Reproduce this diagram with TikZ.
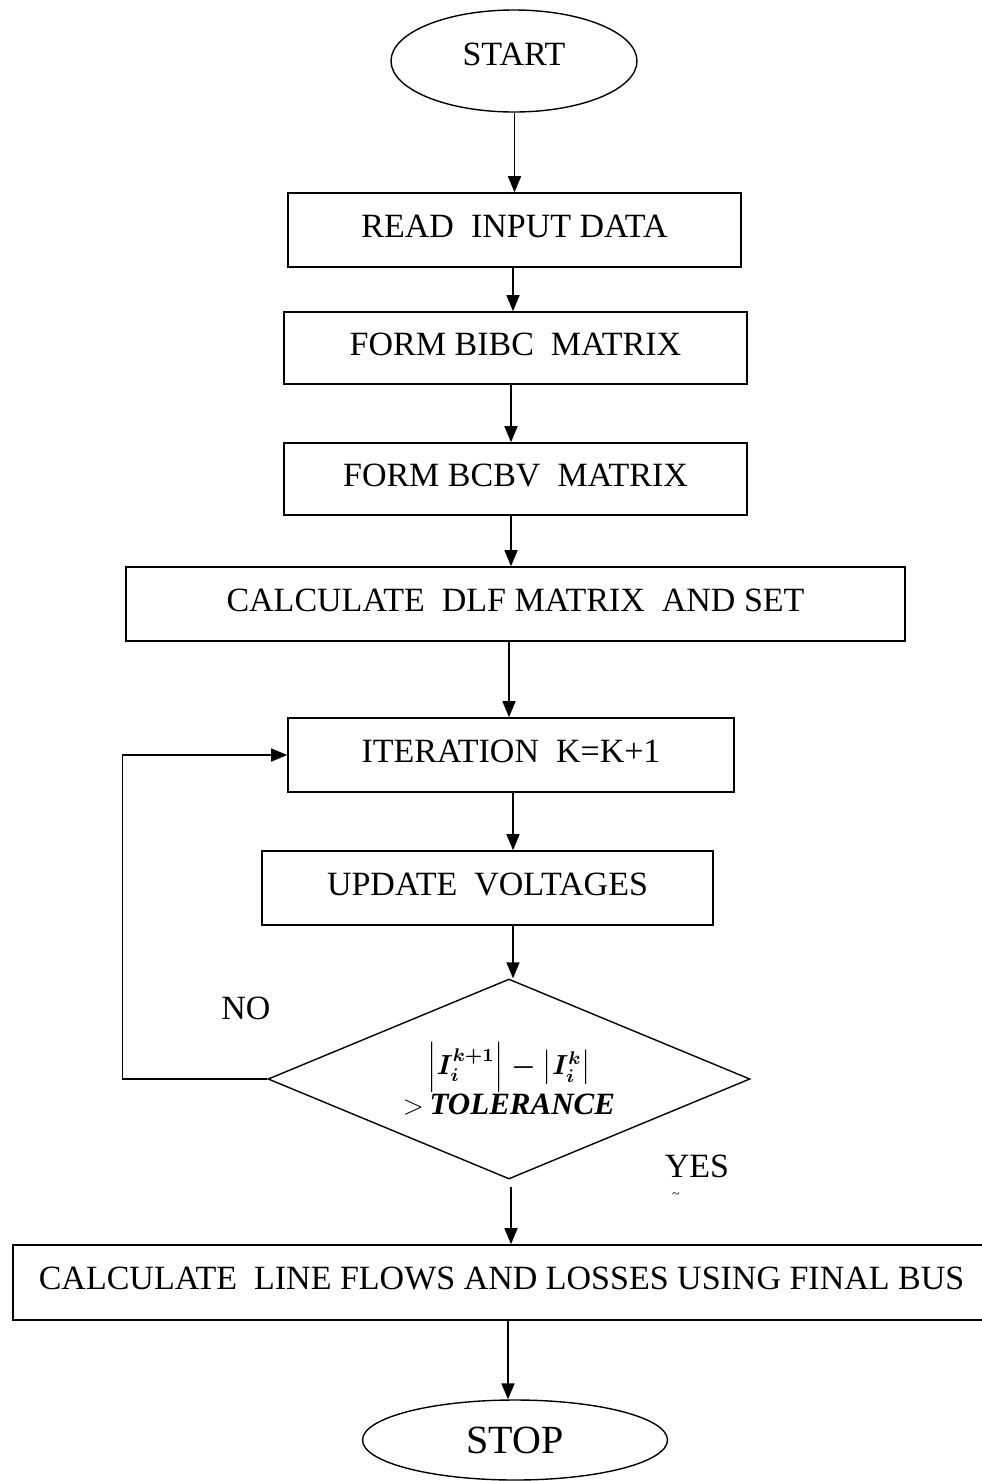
\documentclass[tikz,border=0pt]{standalone}
\usepackage{graphicx}
\usepackage{amsmath}
\usepackage{fontspec}
\setmainfont{Liberation Serif}
\usetikzlibrary{shapes.geometric,arrows.meta}
\begin{document}
\begin{tikzpicture}[x=1pt,y=-1pt,
  every node/.style={font=\fontsize{34}{42}\selectfont},
  box/.style={draw,rectangle,line width=1.6pt,inner sep=0pt,align=center},
  oval/.style={draw,ellipse,line width=1.4pt,inner sep=0pt},
  dec/.style={draw,diamond,line width=1.4pt,inner sep=0pt,aspect=2.41,align=center},
  arr/.style={line width=1.6pt,-{Triangle[length=16pt,width=13pt]}},
  lbl/.style={inner sep=0pt}]
\useasboundingbox (0,0) rectangle (982,1481);
\node[oval,minimum width=246pt,minimum height=102pt] (start) at (514,61) {\raisebox{-4pt}[0pt][0pt]{START}};
\node[box,minimum width=453pt,minimum height=74pt] (read) at (514.5,230) {\raisebox{-7pt}[0pt][0pt]{READ\ \ INPUT DATA}};
\node[box,minimum width=463pt,minimum height=72pt] (bibc) at (515.5,348) {\raisebox{-7pt}[0pt][0pt]{FORM BIBC\ \ MATRIX}};
\node[box,minimum width=463pt,minimum height=72pt] (bcbv) at (515.5,479) {\raisebox{-7pt}[0pt][0pt]{FORM BCBV\ \ MATRIX}};
\node[box,minimum width=779pt,minimum height=74pt] (dlf) at (515.5,604) {\raisebox{-7pt}[0pt][0pt]{CALCULATE\ \ DLF MATRIX\ \ AND SET}};
\node[box,minimum width=446pt,minimum height=74pt] (iter) at (511,755) {\raisebox{-7pt}[0pt][0pt]{ITERATION\ \ K=K+1}};
\node[box,minimum width=451pt,minimum height=74pt] (upd) at (487.5,888) {\raisebox{-7pt}[0pt][0pt]{UPDATE\ \ VOLTAGES}};
\node[dec,minimum width=482pt,minimum height=200pt] (tol) at (509,1079) {\scalebox{2.3}{\fontsize{12}{14}\selectfont$\boldsymbol{\left|I_i^{k+1}\right|-\left|I_i^{k}\right|}$}\\[-0.05em]{\scalebox{2.3}{\fontsize{12}{14}\selectfont$>$}\,\fontsize{31}{36}\selectfont\textbf{\textit{TOLERANCE}}}};
\node[box,minimum width=990pt,minimum height=75pt,anchor=west,inner xsep=26pt] (final) at (12,1282.5) {\raisebox{-7pt}[0pt][0pt]{\makebox[950pt][l]{CALCULATE\ \ LINE FLOWS AND LOSSES USING FINAL BUS}}};
\node[oval,minimum width=305pt,minimum height=80pt,font=\fontsize{40}{46}\selectfont] (stop) at (515,1440) {STOP};
\node[lbl] (no) at (246,1008) {NO};
\node[lbl] (yes) at (697,1166) {YES};
\node[lbl,font=\fontsize{14}{16}\selectfont] (tilde) at (676,1196) {\textasciitilde};
\coordinate (tolb) at (511,1187);
\draw[arr] (start.south -| read) -- (read.north);
\draw[arr] (513,267) coordinate (r1) -- (r1 |- bibc.north);
\draw[arr] (bibc.south -| 511,0) -- (bcbv.north -| 511,0);
\draw[arr] (bcbv.south -| 511,0) -- (dlf.north -| 511,0);
\draw[arr] (dlf.south -| 509,0) -- (iter.north -| 509,0);
\draw[arr] (iter.south -| 513,0) -- (upd.north -| 513,0);
\draw[arr] (upd.south -| 513,0) -- (tol.north -| 513,0);
\draw[arr] (tolb) -- (tolb |- final.north);
\draw[arr] (final.south -| 508,0) -- (stop.north -| 508,0);
\draw[arr] (tol.west) -- ++(-145,0) coordinate (lc) |- (iter.west);
\end{tikzpicture}
\end{document}
